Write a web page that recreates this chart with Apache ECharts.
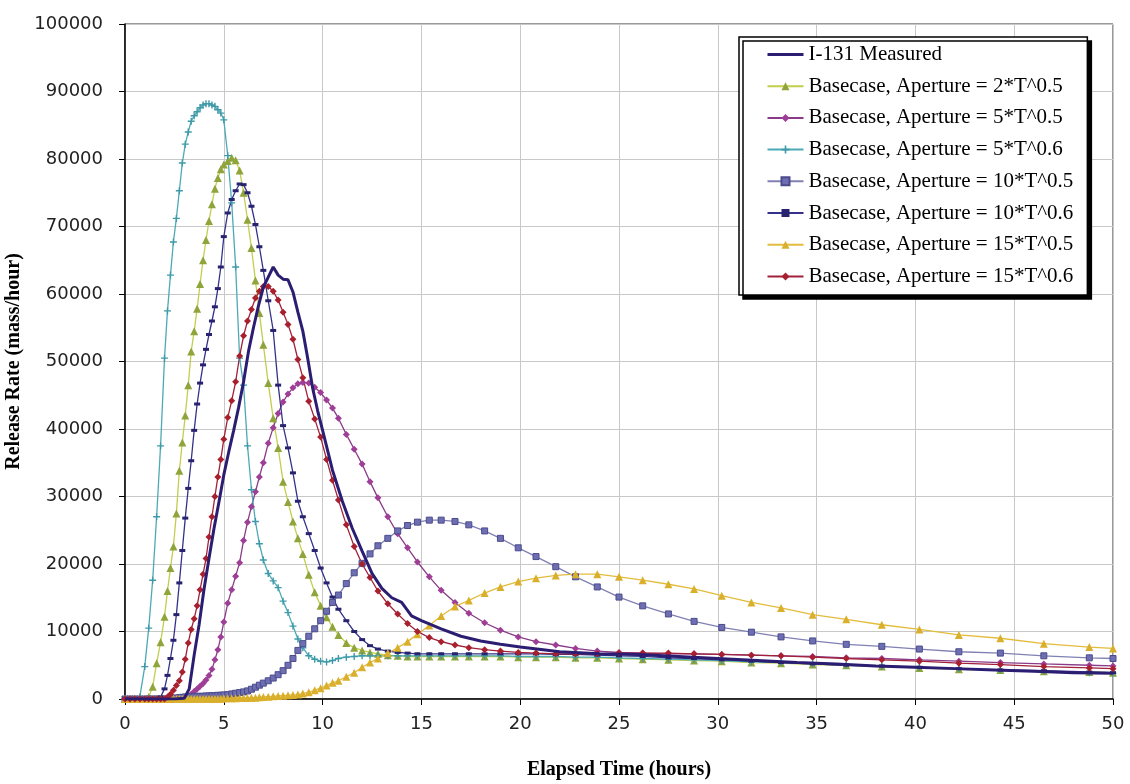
<!DOCTYPE html>
<html>
<head>
<meta charset="utf-8">
<script src="https://cdn.jsdelivr.net/npm/echarts@6/dist/echarts.min.js"></script>
<style>
  html, body { margin: 0; padding: 0; background: #fff; }
  #chart { width: 1130px; height: 784px; }
</style>
</head>
<body>
<div id="chart"></div>
<script>
// ---- Data ----
const seriesNames = [
  'I-131 Measured',
  'Basecase, Aperture = 2*T^0.5',
  'Basecase, Aperture = 5*T^0.5',
  'Basecase, Aperture = 5*T^0.6',
  'Basecase, Aperture = 10*T^0.5',
  'Basecase, Aperture = 10*T^0.6',
  'Basecase, Aperture = 15*T^0.5',
  'Basecase, Aperture = 15*T^0.6'
];

// elapsed time (hours) of the measured curve
const measuredTime = [0, 1, 2, 2.5, 3.0, 3.25, 3.5, 3.75, 4.0, 4.25, 4.5, 4.75, 5.0, 5.25, 5.5, 5.75, 6.0, 6.25, 6.5, 6.75,
  7.0, 7.25, 7.5, 7.75, 8.0, 8.25, 8.5, 8.75, 9.0, 9.25, 9.5, 9.75, 10, 10.5, 11, 11.5, 12, 12.5, 13, 13.5,
  14, 14.5, 15, 16, 17, 18, 19, 20, 22, 24, 26, 28, 30, 32, 34, 36, 38, 40, 42, 44, 46, 48, 50];
const measured = [0, 0, 0, 0, 100, 1500, 6500, 11000, 16300, 20800, 25200, 29100, 33200, 36600, 39800, 43200, 47000, 51500, 55000, 58200,
  61000, 62500, 64000, 62800, 62200, 62100, 60300, 57300, 54500, 50400, 46000, 42700, 39800, 33900, 29300, 25300, 21900, 18600, 16400, 15000,
  14300, 12300, 11600, 10400, 9300, 8600, 8100, 7700, 7000, 6700, 6600, 6300, 6000, 5700, 5400, 5200, 4900, 4700, 4500, 4300, 4100, 3900, 3800];

// elapsed time (hours) of the simulated cases
const simTime = [
  0, 0.25, 0.5, 0.75, 1.0, 1.2, 1.4, 1.6, 1.8, 2.0,
  2.15, 2.3, 2.45, 2.6, 2.75, 2.9, 3.05, 3.2, 3.35, 3.5,
  3.65, 3.8, 3.95, 4.1, 4.25, 4.4, 4.55, 4.7, 4.85, 5.0,
  5.2, 5.4, 5.6, 5.8, 6.0, 6.2, 6.4, 6.6, 6.8, 7.0,
  7.25, 7.5, 7.75, 8.0, 8.25, 8.5, 8.75, 9.0, 9.3, 9.6,
  9.9, 10.2, 10.5, 10.8, 11.2, 11.6, 12.0, 12.4, 12.8, 13.3,
  13.8, 14.3, 14.8, 15.4, 16.0, 16.7, 17.4, 18.2, 19.0, 19.9,
  20.8, 21.8, 22.8, 23.9, 25.0, 26.2, 27.5, 28.8, 30.2, 31.7,
  33.2, 34.8, 36.5, 38.3, 40.2, 42.2, 44.3, 46.5, 48.8, 50
];

const ap2t05 = [
  0, 0, 0, 0, 0, 300, 1800, 5300, 8400, 12200,
  16000, 19400, 22600, 27500, 33800, 38000, 42000, 46500, 51500, 54500,
  57800, 61500, 65000, 68000, 70800, 73300, 75600, 77200, 78500, 79200,
  79700, 80200, 79800, 78300, 75000, 71000, 66800, 62000, 57200, 52500,
  46800, 41600, 37200, 32200, 29200, 26300, 23800, 21500, 18400, 15800,
  13800, 12100, 10700, 9500, 8300, 7600, 7200, 6900, 6700, 6500,
  6400, 6300, 6300, 6300, 6300, 6300, 6300, 6300, 6300, 6200,
  6200, 6200, 6100, 6100, 6000, 5900, 5800, 5700, 5600, 5400,
  5300, 5100, 5000, 4800, 4600, 4400, 4300, 4100, 4000, 3900
];
const ap5t05 = [
  0, 0, 0, 0, 0, 0, 0, 0, 0, 0,
  0, 0, 0, 0, 0, 100, 200, 400, 700, 1100,
  1500, 1900, 2300, 2800, 3500, 4400, 5800, 7300, 9200, 11400,
  14200, 16200, 18200, 20200, 23500, 26200, 28500, 30700, 32900, 35000,
  37900, 40200, 42300, 44000, 45200, 46100, 46700, 46900, 46800, 46200,
  45400, 44300, 43100, 41600, 39200, 37000, 34800, 32200, 29800, 27000,
  24500, 22400, 20300, 18100, 16100, 14300, 12700, 11300, 10200, 9200,
  8500, 8000, 7500, 7100, 6900, 6800, 6700, 6700, 6600, 6500,
  6400, 6300, 6100, 6000, 5800, 5600, 5400, 5200, 5000, 4900
];
const ap5t06 = [
  0, 0, 0, 300, 4800, 10500, 17600, 27000, 37500, 50500,
  57500, 62800, 67700, 71200, 75300, 79400, 82200, 84000, 85600, 86400,
  87000, 87600, 88000, 88200, 88200, 88000, 87800, 87300, 86800, 85800,
  80500, 73500, 64000, 50500, 46500, 37500, 31000, 26300, 23000, 20600,
  18600, 17500, 16500, 14500, 12800, 10800, 8900, 7600, 6400, 5900,
  5600, 5500, 5700, 6000, 6200, 6300, 6400, 6400, 6400, 6400,
  6400, 6400, 6400, 6400, 6400, 6400, 6400, 6400, 6400, 6300,
  6300, 6300, 6200, 6200, 6100, 6000, 5900, 5800, 5700, 5500,
  5400, 5200, 5000, 4900, 4700, 4500, 4300, 4100, 3900, 3800
];
const ap10t05 = [
  0, 0, 0, 0, 0, 0, 0, 0, 0, 0,
  0, 100, 100, 150, 200, 250, 300, 300, 350, 350,
  400, 400, 400, 450, 450, 500, 500, 550, 550, 600,
  650, 750, 850, 950, 1050, 1200, 1450, 1750, 2050, 2350,
  2700, 3100, 3600, 4200, 5000, 6000, 7200, 8200, 9300, 10400,
  11600, 13000, 14300, 15400, 17100, 18700, 20100, 21500, 22700, 23800,
  24900, 25700, 26200, 26500, 26500, 26300, 25800, 24900, 23800, 22400,
  21100, 19600, 18100, 16600, 15100, 13800, 12600, 11500, 10600, 9900,
  9200, 8600, 8100, 7800, 7400, 7000, 6800, 6400, 6100, 6000
];
const ap10t06 = [
  0, 0, 0, 0, 0, 0, 0, 0, 300, 1500,
  3500, 6000, 8700, 12500, 17200, 22000, 26800, 31200, 35300, 39800,
  43700, 46800, 49500, 51800, 54000, 56000, 58100, 60800, 64000, 68500,
  72000, 74000, 75300, 76300, 76200, 75000, 73000, 70300, 67000, 63500,
  59000, 54600, 46500, 40500, 37200, 33500, 29300, 27000, 24500, 22000,
  19400, 17200, 15100, 13300, 11600, 10000, 8800, 7900, 7400, 7100,
  6900, 6800, 6700, 6700, 6700, 6700, 6700, 6700, 6700, 6700,
  6700, 6600, 6600, 6500, 6400, 6300, 6100, 6000, 5800, 5600,
  5400, 5200, 5000, 4900, 4700, 4500, 4300, 4200, 4000, 3900
];
const ap15t05 = [
  0, 0, 0, 0, 0, 0, 0, 0, 0, 0,
  0, 0, 50, 50, 50, 50, 50, 50, 50, 50,
  50, 50, 50, 50, 50, 50, 50, 50, 50, 100,
  100, 100, 100, 150, 150, 150, 200, 200, 250, 300,
  350, 400, 450, 500, 550, 600, 650, 800, 1000, 1300,
  1600, 2000, 2400, 2700, 3300, 3900, 4700, 5400, 6000, 6800,
  7600, 8500, 9600, 10900, 12300, 13700, 14600, 15700, 16600, 17400,
  17900, 18300, 18500, 18500, 18100, 17600, 17000, 16300, 15300, 14300,
  13500, 12500, 11800, 11000, 10300, 9500, 9000, 8200, 7700, 7500
];
const ap15t06 = [
  0, 0, 0, 0, 0, 0, 0, 0, 0, 0,
  300, 700, 1300, 2000, 2700, 4000, 5900, 8300, 10300, 11900,
  13800, 16200, 18500, 20800, 24000, 27000, 30000, 32900, 35500, 38500,
  41700, 44200, 47000, 50800, 53800, 56000, 57700, 59400, 60400, 61100,
  61100, 60400, 59100, 57300, 55500, 53300, 50300, 47600, 44100, 41500,
  38800, 35500, 32400, 29500, 25800, 22600, 20000, 18000, 16000, 14100,
  12600, 11200, 10000, 9100, 8500, 8000, 7600, 7300, 7100, 6900,
  6800, 6700, 6700, 6700, 6800, 6800, 6800, 6700, 6600, 6500,
  6400, 6200, 6000, 5800, 5600, 5300, 5100, 4800, 4600, 4500
];

const xTicks = { min: 0, max: 50, interval: 5 };
const yTicks = { min: 0, max: 100000, interval: 10000 };

// ---- Build chart ----
function pairs(xs, ys) { return xs.map((x, i) => [x, ys[i]]); }

const plusPath = 'path://M4,0H6V4H10V6H6V10H4V6H0V4H4Z';

const styles = [
  { line: '#2B1E72', mark: '#2B1E72', symbol: 'none', size: 0, width: 3 },
  { line: '#C2CE4C', mark: '#8FA43A', symbol: 'triangle', size: 8, width: 1.3 },
  { line: '#8A3A88', mark: '#9E3E96', symbol: 'diamond', size: 7, width: 1.3 },
  { line: '#4CA9B6', mark: '#3E9AA8', symbol: plusPath, size: 7, width: 1.3 },
  { line: '#8080B4', mark: '#6E6EB2', symbol: 'rect', size: 6, width: 1.3, border: '#4B4B8C' },
  { line: '#35318A', mark: '#27236E', symbol: 'rect', size: [6, 3], width: 1.3 },
  { line: '#E3BC3C', mark: '#D9AF2C', symbol: 'triangle', size: 8, width: 1.3 },
  { line: '#A1203A', mark: '#A8202E', symbol: 'diamond', size: 7, width: 1.3 }
];

const dataSets = [
  pairs(measuredTime, measured),
  pairs(simTime, ap2t05),
  pairs(simTime, ap5t05),
  pairs(simTime, ap5t06),
  pairs(simTime, ap10t05),
  pairs(simTime, ap10t06),
  pairs(simTime, ap15t05),
  pairs(simTime, ap15t06)
];

const series = seriesNames.map((name, i) => {
  const s = styles[i];
  return {
    name: name,
    type: 'line',
    data: dataSets[i],
    symbol: s.symbol,
    symbolSize: s.size,
    showSymbol: s.symbol !== 'none',
    lineStyle: { color: s.line, width: s.width },
    itemStyle: {
      color: s.mark,
      borderColor: s.border || s.mark,
      borderWidth: s.border ? 1 : 0
    },
    z: i === 0 ? 3 : 2,
    animation: false,
    emphasis: { disabled: true }
  };
});

const legendData = seriesNames.map((name, i) =>
  i === 0 ? { name: name, itemStyle: { opacity: 0 }, lineStyle: { width: 3 } } : { name: name }
);

const chart = echarts.init(document.getElementById('chart'), null, { renderer: 'canvas' });
chart.setOption({
  backgroundColor: '#ffffff',
  animation: false,
  grid: {
    left: 125, right: 17, top: 24, bottom: 85,
    outerBoundsMode: 'none', containLabel: false,
    show: true, borderColor: '#333', borderWidth: 1, backgroundColor: 'transparent'
  },
  legend: {
    orient: 'vertical',
    left: 739, top: 37,
    padding: [7, 14, 8, 27],
    itemWidth: 36, itemHeight: 10, itemGap: 10.7,
    backgroundColor: '#fff',
    borderColor: '#000', borderWidth: 1.5,
    shadowColor: '#000', shadowBlur: 0, shadowOffsetX: 4, shadowOffsetY: 4,
    textStyle: { fontFamily: 'Liberation Serif', fontSize: 21, color: '#000', lineHeight: 20 },
    data: legendData
  },
  xAxis: {
    type: 'value',
    min: xTicks.min, max: xTicks.max, interval: xTicks.interval,
    name: 'Elapsed Time (hours)',
    nameLocation: 'middle', nameGap: 61,
    nameTextStyle: { fontFamily: 'Liberation Serif', fontWeight: 'bold', fontSize: 20, color: '#000' },
    axisLine: { show: true, onZero: false, lineStyle: { color: '#000', width: 1.5 } },
    axisTick: { show: true, inside: false, length: 6, lineStyle: { color: '#000' } },
    axisLabel: { fontFamily: 'DejaVu Sans', fontSize: 18, color: '#222', margin: 16 },
    splitLine: { show: true, lineStyle: { color: '#c8c8c8', width: 1 } }
  },
  yAxis: {
    type: 'value',
    min: yTicks.min, max: yTicks.max, interval: yTicks.interval,
    name: 'Release Rate (mass/hour)',
    nameLocation: 'middle', nameGap: 93, nameRotate: 90,
    nameTextStyle: { fontFamily: 'Liberation Serif', fontWeight: 'bold', fontSize: 20, color: '#000' },
    axisLine: { show: true, onZero: false, lineStyle: { color: '#000', width: 1.5 } },
    axisTick: { show: true, inside: false, length: 6, lineStyle: { color: '#000' } },
    axisLabel: { fontFamily: 'DejaVu Sans', fontSize: 18, color: '#222', margin: 22,
      formatter: function (v) { return String(v); } },
    splitLine: { show: true, lineStyle: { color: '#c8c8c8', width: 1 } }
  },
  series: series
});
</script>
</body>
</html>
